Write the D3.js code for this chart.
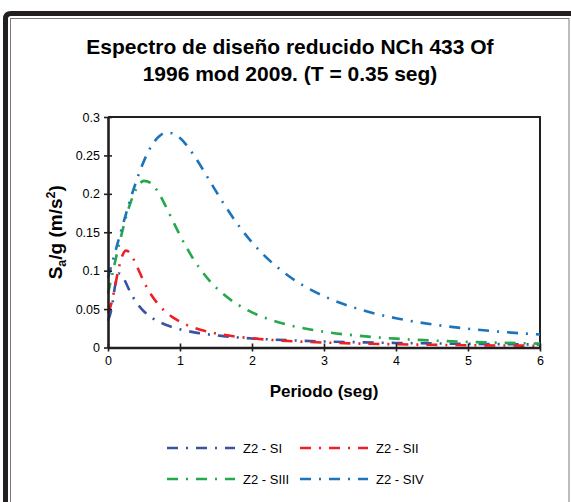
<!DOCTYPE html>
<html>
<head>
<meta charset="utf-8">
<script src="https://cdn.jsdelivr.net/npm/d3@7"></script>
<style>
  html, body { margin: 0; padding: 0; background: #fff; }
  svg { display: block; font-family: "Liberation Sans", Arial, sans-serif; }
</style>
</head>
<body>
<div id="chart"></div>
<script>
// periods (seg)
const periods = [0, 0.05, 0.1, 0.15, 0.2, 0.25, 0.3, 0.4, 0.5, 0.6, 0.7, 0.8, 0.9, 1.0,
    1.2, 1.4, 1.6, 1.8, 2.0, 2.5, 3.0, 3.5, 4.0, 4.5, 5.0, 5.5, 6.0];

const sI = [0.0350, 0.0506, 0.0810, 0.0963, 0.0935, 0.0839, 0.0739, 0.0579, 0.0469, 0.0393,
    0.0338, 0.0296, 0.0263, 0.0237, 0.0197, 0.0169, 0.0148, 0.0131, 0.0118, 0.0095, 0.0079,
    0.0068, 0.0059, 0.0053, 0.0047, 0.0043, 0.0039];
const sII = [0.0450, 0.0585, 0.0810, 0.1036, 0.1198, 0.1261, 0.1238, 0.1059, 0.0854, 0.0686,
    0.0560, 0.0464, 0.0392, 0.0336, 0.0256, 0.0203, 0.0166, 0.0139, 0.0119, 0.0085, 0.0064,
    0.0051, 0.0042, 0.0035, 0.0030, 0.0026, 0.0023];
const sIII = [0.0703, 0.0914, 0.1122, 0.1325, 0.1518, 0.1695, 0.1850, 0.2075, 0.2169, 0.2139,
    0.2016, 0.1842, 0.1649, 0.1460, 0.1131, 0.0881, 0.0696, 0.0560, 0.0458, 0.0296, 0.0205,
    0.0151, 0.0115, 0.0091, 0.0073, 0.0061, 0.0051];
const sIV = [0.0906, 0.1076, 0.1245, 0.1413, 0.1578, 0.1740, 0.1896, 0.2184, 0.2429, 0.2617,
    0.2740, 0.2796, 0.2788, 0.2726, 0.2492, 0.2188, 0.1882, 0.1605, 0.1368, 0.0936, 0.0668,
    0.0496, 0.0381, 0.0301, 0.0244, 0.0201, 0.0169];

const seriesNames = ['Z2 - SI', 'Z2 - SII', 'Z2 - SIII', 'Z2 - SIV'];
const seriesColors = ['#3953a4', '#ed2027', '#25a84a', '#1c74bc'];
const xTicks = [0, 1, 2, 3, 4, 5, 6];
const yTicks = [0, 0.05, 0.1, 0.15, 0.2, 0.25, 0.3];

const W = 571, H = 502;
const plot = { left: 108, right: 540, top: 117, bottom: 347.5 };
const dash = '11,8,2,8';

const svg = d3.select('#chart').append('svg').attr('width', W).attr('height', H);

// outer frame
svg.append('path')
    .attr('d', `M5.5,${H + 10} L5.5,19 Q5.5,13.5 11,13.5 L${W + 10},13.5`)
    .attr('fill', 'none').attr('stroke', '#231f20').attr('stroke-width', 5);
svg.append('rect')
    .attr('x', 10.5).attr('y', 18.5).attr('width', 558.5).attr('height', H)
    .attr('fill', 'none').attr('stroke', '#7a7a7a').attr('stroke-width', 1);

// title
const title = svg.append('text')
    .attr('text-anchor', 'middle').attr('font-weight', 'bold').attr('font-size', 21)
    .attr('fill', '#000');
title.append('tspan').attr('x', 290).attr('y', 54).text('Espectro de diseño reducido NCh 433 Of');
title.append('tspan').attr('x', 290).attr('y', 81).text('1996 mod 2009. (T = 0.35 seg)');

const x = d3.scaleLinear().domain([0, 6]).range([plot.left, plot.right]);
const y = d3.scaleLinear().domain([0, 0.3]).range([plot.bottom, plot.top]);

// plot border (top and right)
svg.append('path')
    .attr('d', `M${plot.left},${plot.top} H${plot.right} V${plot.bottom}`)
    .attr('fill', 'none').attr('stroke', '#231f20').attr('stroke-width', 2);

// series
const line = d3.line()
    .x((d, i) => x(periods[i]))
    .y(d => y(d))
    .curve(d3.curveMonotoneX);

const allSeries = [sI, sII, sIII, sIV];
svg.append('g').selectAll('path').data(allSeries).join('path')
    .attr('d', d => line(d))
    .attr('fill', 'none')
    .attr('stroke', (d, i) => seriesColors[i])
    .attr('stroke-width', 2.6)
    .attr('stroke-dasharray', dash);

// axes
const xAxis = svg.append('g').attr('transform', `translate(0,${plot.bottom})`)
    .call(d3.axisBottom(x).tickValues(xTicks).tickFormat(d3.format('d')).tickSize(4).tickSizeOuter(0));
const yAxis = svg.append('g').attr('transform', `translate(${plot.left},0)`)
    .call(d3.axisLeft(y).tickValues(yTicks).tickFormat(d => d === 0 ? '0' : String(d)).tickSize(4).tickSizeOuter(0));

[xAxis, yAxis].forEach(a => {
    a.select('.domain').attr('stroke', '#231f20').attr('stroke-width', 2.6);
    a.selectAll('.tick line').attr('stroke', '#231f20').attr('stroke-width', 1.6);
    a.selectAll('.tick text').attr('font-size', 12.5).attr('fill', '#000')
        .attr('font-family', '"Liberation Sans", Arial, sans-serif');
});
xAxis.selectAll('.tick line').attr('y1', -4);
xAxis.selectAll('.tick text').attr('y', 9);
yAxis.selectAll('.tick line').attr('x1', 4);
yAxis.selectAll('.tick text').attr('x', -8);

// axis titles
svg.append('text')
    .attr('x', (plot.left + plot.right) / 2).attr('y', 397)
    .attr('text-anchor', 'middle').attr('font-weight', 'bold').attr('font-size', 17)
    .text('Periodo (seg)');

const yTitle = svg.append('text')
    .attr('transform', `translate(62,${(plot.top + plot.bottom) / 2}) rotate(-90)`)
    .attr('text-anchor', 'middle').attr('font-weight', 'bold').attr('font-size', 19);
yTitle.append('tspan').text('S');
yTitle.append('tspan').attr('font-size', 12.5).attr('dy', 4).text('a');
yTitle.append('tspan').attr('dy', -4).text('/g (m/s');
yTitle.append('tspan').attr('font-size', 12.5).attr('dy', -7).text('2');
yTitle.append('tspan').attr('dy', 7).text(')');

// legend
const legendPos = [[167, 448], [300, 448], [167, 479], [300, 479]];
const legend = svg.append('g').selectAll('g').data(seriesNames).join('g')
    .attr('transform', (d, i) => `translate(${legendPos[i][0]},${legendPos[i][1]})`);
legend.append('line')
    .attr('x1', 0).attr('x2', 68).attr('y1', 0).attr('y2', 0)
    .attr('stroke', (d, i) => seriesColors[i]).attr('stroke-width', 2.6)
    .attr('stroke-dasharray', dash);
legend.append('text')
    .attr('x', 76).attr('y', 4.5).attr('font-size', 13).attr('fill', '#000')
    .text(d => d);
</script>
</body>
</html>
